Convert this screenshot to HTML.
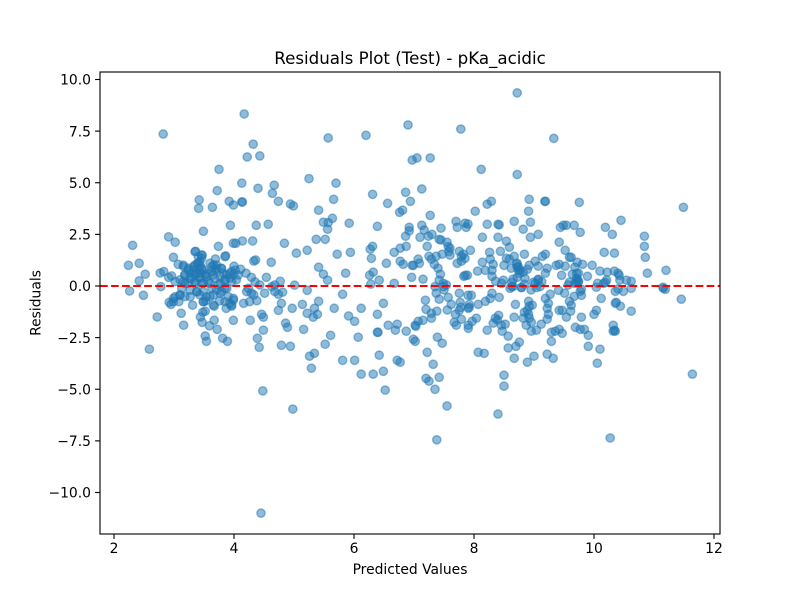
<!DOCTYPE html>
<html>
<head>
<meta charset="utf-8">
<title>Residuals Plot (Test) - pKa_acidic</title>
<style>
html,body{margin:0;padding:0;background:#fff;}
svg{display:block;}
text{font-family:"DejaVu Sans","Liberation Sans",sans-serif;fill:#000;}
</style>
</head>
<body>
<svg id="chart" xmlns="http://www.w3.org/2000/svg" width="800" height="600" viewBox="0 0 800 600">
  <rect x="0" y="0" width="800" height="600" fill="#fff"/>
  <text x="410" y="64" font-size="16.67" text-anchor="middle">Residuals Plot (Test) - pKa_acidic</text>
  <g id="points"></g>
  <g id="zero"></g>
  <g id="xaxis"></g>
  <g id="yaxis"></g>
  <rect x="100" y="72" width="620" height="462" fill="none" stroke="#000" stroke-width="1.11"/>
  <text x="410" y="574" font-size="13.89" text-anchor="middle">Predicted Values</text>
  <text x="0" y="0" font-size="13.89" text-anchor="middle" transform="translate(40.5 303) rotate(-90)">Residuals</text>
</svg>
<script>
const xTickValues = [2, 4, 6, 8, 10, 12];
const yTickValues = [-10, -7.5, -5, -2.5, 0, 2.5, 5, 7.5, 10];
const yTickLabels = ["\u221210.0", "\u22127.5", "\u22125.0", "\u22122.5", "0.0", "2.5", "5.0", "7.5", "10.0"];
const referenceResidual = 0;

const predictedLeftUpper = [3.42,3.72,3.41,3.64,3.92,3.99,4.13,4.14,3.94,4.37,3.49,2.91,3.02,2.31,3.74,3.99,4.03,4.14,4.31,3.36,3.47,2.99,3.86,3.69,2.42,2.24,2.52,2.42,2.77,2.83,3.07,4.33,4.36,4.0,4.11,4.2,4.29,2.91,2.96,3.16,3.24,3.18,3.35,3.43,3.46,3.41,3.38,3.49,3.60,3.66,3.71,3.63,3.54,3.43,3.29,3.35,3.10,3.18,3.02,3.82,3.96,3.99,3.93,3.85,3.77,4.04,3.68,3.60,3.49,3.43,3.39,3.44,3.68,3.79,3.32,3.52,3.88,3.27];
const residualLeftUpper = [4.17,4.62,3.76,3.81,4.10,3.92,4.07,4.07,2.94,2.94,2.65,2.38,2.12,1.97,1.92,2.07,2.07,2.18,2.18,1.68,1.49,1.39,1.46,1.31,1.10,1.0,0.57,0.25,0.63,0.70,1.05,1.21,1.26,0.96,0.81,0.62,0.42,0.42,0.49,0.94,0.86,0.54,1.02,1.18,1.34,0.86,0.62,0.78,1.10,1.02,0.86,0.70,0.46,0.38,0.38,0.13,0.30,0.13,0.21,0.62,0.70,0.54,0.38,0.30,0.13,0.30,0.38,0.13,0.13,0.62,1.10,0.97,0.78,0.86,0.78,0.54,0.54,0.62];

const predictedCluster = [3.155,3.24,3.32,3.405,3.46,3.35,3.27,3.18,3.43,3.54,3.63,3.71,3.79,3.655,3.77,3.57,3.46,3.35,3.24,3.155,3.13,3.27,3.38,3.49,3.63,3.74,3.85,3.93,4.02,4.07,3.96,3.88,3.77,3.655,3.54,3.10,3.02,2.99,3.27,3.905,3.99,3.96,3.85,3.49,3.655,3.405,3.46,3.85,3.35];
const residualCluster = [1.01,0.77,0.93,1.09,0.85,0.53,0.37,0.53,0.45,0.61,0.93,1.01,0.85,0.53,0.45,0.21,0.13,0.21,0.13,0.21,-0.11,-0.2,-0.28,-0.28,-0.11,0.05,0.29,0.61,0.77,0.53,0.21,-0.11,-0.36,-0.44,-0.52,-0.44,-0.52,-0.76,-0.52,-0.52,-0.68,-0.92,-0.76,-0.76,-0.92,1.42,1.5,1.42,1.66];

const predictedLeftLower = [2.26,2.49,2.78,2.72,2.59,2.92,2.95,2.99,3.08,3.10,3.18,3.31,3.12,3.16,3.44,3.52,3.48,3.47,3.67,3.59,3.72,3.52,3.54,3.81,3.89,3.99,4.27,3.67,3.87,3.96,3.93,3.99,4.16,4.26,4.38,3.76,3.53,3.49,3.60,3.38,3.43,3.79,3.85,3.71,4.21,4.29,4.33,4.24,4.39,4.42];
const residualLeftLower = [-0.24,-0.45,-0.03,-1.50,-3.06,-0.79,-0.89,-0.6,-0.76,-0.43,-0.51,-0.93,-1.32,-1.90,-1.50,-1.22,-1.27,-1.76,-1.66,-1.93,-2.10,-2.42,-2.68,-2.53,-2.68,-1.66,-1.66,-0.98,-1.08,-0.98,-0.84,-0.6,-0.84,-0.76,-0.71,-0.72,-0.72,-0.76,-0.51,-0.27,-0.43,-0.27,-0.11,-0.19,-0.27,-0.35,-0.43,-0.11,-2.53,-2.97];

const predictedMidUpper = [4.64,4.74,4.94,4.99,5.41,5.66,6.31,6.56,6.86,6.94,6.76,6.81,4.57,5.64,5.49,5.57,5.56,5.92,6.39,6.92,6.92,6.86,4.84,5.37,5.52,5.04,5.22,5.72,5.94,6.31,6.27,6.29,6.67,6.77,6.87,6.54,6.77,6.82,6.97,4.62,5.41,5.49,5.56,5.86,6.32,6.26,6.42,6.67,6.96,4.54,4.77,5.01,6.28,4.35,4.43,4.63,4.68];
const residualMidUpper = [4.49,4.10,3.97,3.88,3.67,4.20,4.44,4.0,4.54,4.10,3.57,3.67,2.99,3.28,3.09,3.07,2.75,3.04,2.89,2.84,2.67,2.41,2.07,2.26,2.26,1.59,1.73,1.54,1.63,1.92,1.78,1.34,1.63,1.83,1.92,1.10,1.20,1.05,1.0,1.15,0.91,0.57,0.28,0.62,0.67,0.52,0.28,0.13,0.42,0.42,0.23,0.04,0.09,0.2,0.05,-0.03,0.05];

const predictedMidLower = [5.22,4.51,4.74,4.81,4.68,4.79,4.74,4.97,5.14,5.41,5.81,5.67,5.34,5.22,5.39,5.32,6.12,6.49,5.91,6.01,6.39,6.57,6.72,6.69,6.87,7.02,6.99,7.02,6.4,6.39,6.07,5.61,5.52,5.34,5.26,5.29,5.81,6.01,6.12,6.32,6.49,6.42,6.72,6.77,5.16,4.86,4.89,4.49,4.46,4.49,4.79,4.94];
const residualMidLower = [-0.21,-0.35,-0.40,-0.30,-0.27,-0.84,-1.18,-1.08,-0.89,-0.74,-0.40,-1.08,-1.08,-1.32,-1.37,-1.51,-1.08,-0.84,-1.45,-1.71,-1.37,-1.90,-1.85,-2.14,-2.19,-1.90,-2.58,-2.68,-2.24,-2.24,-2.48,-2.39,-2.82,-3.26,-3.40,-3.98,-3.60,-3.60,-4.27,-4.27,-4.13,-3.35,-3.60,-3.69,-2.10,-1.80,-2.0,-2.14,-1.37,-1.51,-2.87,-2.92];

const predictedRightMidUpper = [8.22,8.29,8.92,9.18,9.19,8.02,8.91,7.27,7.70,7.13,7.72,7.85,7.9,7.87,7.45,7.17,8.22,8.40,8.42,8.67,8.94,8.82,9.07,8.94,8.14,8.40,9.44,9.49,9.54,7.10,7.24,7.30,7.42,7.45,7.22,7.55,7.57,7.60,7.58,7.47,7.60,7.37,7.25,7.29,7.07,7.09,6.99,7.34,7.40,7.44,7.42,7.15,7.49,7.54,7.755,7.94,7.82,7.85,7.79,7.72,7.79,8.26,8.44,8.54,8.59,8.84,8.54,8.67,8.59,8.27,8.14,8.32,8.50,8.62,8.06,8.19,8.30,8.30,8.36,7.83,7.89,7.855,8.72,8.72,8.74,8.76,8.82,8.89,8.92,9.02,9.07,9.14,9.19,9.42,9.52,9.59,9.22,9.19,9.07,8.99,9.46,9.37,9.42,9.52,8.49,8.65,8.72,8.84,8.63,8.46];
const residualRightMidUpper = [3.96,4.10,4.20,4.10,4.10,3.62,3.62,3.42,3.13,2.94,2.84,3.04,3.0,2.84,2.8,2.71,2.99,2.99,2.96,3.13,3.09,2.75,2.50,2.36,2.36,2.36,2.84,2.94,2.94,2.36,2.41,2.50,2.26,2.23,1.92,2.12,1.91,1.83,1.67,1.54,1.49,1.44,1.44,1.30,1.30,1.10,1.0,1.05,0.86,0.57,0.28,0.33,0.13,0.05,1.68,1.73,1.54,1.34,1.44,1.10,1.20,1.63,1.68,2.17,1.88,1.54,1.34,1.44,1.30,1.30,1.15,1.05,1.0,0.86,0.72,0.76,0.76,0.47,0.23,0.47,0.52,0.52,1.10,0.91,0.76,0.62,0.67,0.81,1.0,1.20,0.96,1.44,1.54,2.12,1.73,1.39,0.86,0.62,0.33,0.18,0.52,1.0,1.05,0.96,0.28,0.33,0.42,0.09,0.17,0.13];

const predictedRightDense = [8.74,8.77,8.71,9.07,9.13,9.02,9.71,9.74,9.71,9.68,8.85,8.65,8.79];
const residualRightDense = [0.93,0.77,1.06,0.29,0.21,0.13,0.37,0.21,0.61,0.13,0.37,-0.03,-0.07];

const predictedRightMidLower = [7.37,7.42,7.50,7.57,7.19,7.20,7.29,7.38,7.29,7.15,7.07,7.03,7.555,7.62,7.755,7.90,7.955,7.77,7.92,7.92,7.905,7.78,7.755,7.69,7.79,7.67,7.705,7.905,7.905,7.97,8.04,8.07,8.19,8.27,8.30,8.42,8.69,8.67,8.22,8.41,8.39,8.32,8.355,8.455,8.52,8.47,8.57,7.39,7.47,7.22,7.32,7.2,7.25,7.42,8.07,8.17,8.50,8.50,8.57,8.70,8.755,8.67,9.0,8.89,9.22,9.32,8.91,8.97,8.92,8.89,8.84,8.91,8.82,8.92,8.955,8.87,9.12,9.04,8.955,9.24,9.22,9.22,9.24,9.19,9.27,9.42,9.47,9.54,9.29,9.355,9.42,9.47,9.29,9.41,9.51,8.6,8.63,8.79,8.95,9.04,9.1,7.35,7.49];
const residualRightMidLower = [-0.35,-0.64,-0.19,-0.55,-0.69,-1.13,-1.32,-1.22,-1.56,-1.66,-1.71,-1.95,-1.16,-0.89,-0.35,-0.45,-0.45,-0.79,-0.89,-1.03,-1.08,-1.03,-1.18,-1.37,-1.61,-1.76,-1.90,-1.90,-2.05,-1.71,-1.56,-0.89,-0.74,-0.6,-0.35,-0.55,-0.89,-1.51,-2.14,-1.42,-1.64,-1.80,-1.56,-1.90,-1.85,-2.19,-2.43,-2.48,-2.77,-3.21,-3.79,-4.47,-4.61,-4.42,-3.21,-3.26,-4.32,-4.85,-3.0,-2.92,-2.72,-3.50,-3.40,-3.69,-3.30,-3.50,-0.74,-0.93,-0.98,-1.18,-1.27,-1.37,-1.56,-1.56,-1.76,-1.90,-1.85,-2.14,-2.19,-1.37,-1.61,-1.08,-0.84,-0.6,-0.40,-1.18,-1.18,-1.51,-2.24,-2.19,-2.10,-2.29,-2.68,-0.21,-0.35,-0.11,-0.03,-0.08,-0.19,-0.08,-0.03,-0.03,-0.03];

const predictedRightUpper = [9.755,11.49,10.45,10.19,10.305,9.67,9.77,10.84,10.84,10.855,10.89,11.2,10.17,10.34,9.97,9.62,9.72,9.81,10.10,10.22,10.34,10.40,10.42,10.54,10.62,9.89,9.74,9.64,9.68,9.59,9.72,9.74,9.71,10.06,10.19,10.16,10.21,10.43,11.15,9.57];
const residualRightUpper = [4.05,3.81,3.18,2.84,2.50,2.94,2.60,2.41,1.92,1.39,0.62,0.76,1.63,1.59,1.0,1.39,1.15,1.05,0.72,0.67,0.72,0.62,0.52,0.28,0.23,0.47,0.62,0.57,0.91,0.18,0.33,0.23,0.17,0.13,0.18,0.13,0.29,0.29,-0.06,0.05];

const predictedRightLower = [11.455,11.64,10.62,10.44,10.37,10.355,10.12,10.04,10.0,9.79,9.61,9.62,9.59,9.67,9.79,9.77,9.79,10.04,10.355,10.49,10.62,10.40,11.19,11.155,9.69,9.77,9.84,9.905,9.905,10.10,10.055,10.32,10.32,10.355,10.34];
const residualRightLower = [-0.64,-4.27,-1.22,-0.98,-0.79,-0.84,-0.6,-1.18,-1.37,-1.51,-1.22,-0.93,-0.74,-0.5,-0.45,-0.26,-0.16,-0.06,-0.26,-0.26,-0.11,-0.14,-0.16,-0.11,-2.0,-2.1,-2.1,-2.39,-2.92,-3.06,-3.74,-1.90,-2.19,-2.19,-2.14];

const predictedOutliers = [8.72,4.17,2.82,4.32,5.57,6.2,6.9,7.78,9.33,4.22,4.43,3.75,6.97,7.05,7.27,8.12,8.72,5.25,5.7,4.13,4.67,4.4,7.13,4.48,4.98,6.52,7.55,7.38,8.4,10.27,4.45,7.35];
const residualOutliers = [9.35,8.33,7.36,6.87,7.17,7.3,7.8,7.6,7.15,6.25,6.3,5.65,6.1,6.2,6.2,5.65,5.4,5.2,4.98,4.98,4.88,4.73,4.7,-5.08,-5.96,-5.04,-5.81,-7.45,-6.2,-7.36,-11.0,-5.0];

const predictedValues = [].concat(predictedLeftUpper, predictedCluster, predictedLeftLower, predictedMidUpper, predictedMidLower, predictedRightMidUpper, predictedRightDense, predictedRightMidLower, predictedRightUpper, predictedRightLower, predictedOutliers);
const residualValues = [].concat(residualLeftUpper, residualCluster, residualLeftLower, residualMidUpper, residualMidLower, residualRightMidUpper, residualRightDense, residualRightMidLower, residualRightUpper, residualRightLower, residualOutliers);

const NS = "http://www.w3.org/2000/svg";
function xScale(v) { return 114 + (v - 2) * 60; }
function yScale(v) { return 286 - v * 20.65; }
function make(tag, attrs, parent) {
  const el = document.createElementNS(NS, tag);
  for (const k in attrs) el.setAttribute(k, attrs[k]);
  parent.appendChild(el);
  return el;
}

const pointsGroup = document.getElementById("points");
const count = Math.min(predictedValues.length, residualValues.length);
for (let i = 0; i < count; i++) {
  const c = make("circle", {cx: xScale(predictedValues[i]), cy: yScale(residualValues[i]), r: 4.17, fill: "#1f77b4", "fill-opacity": 0.5, stroke: "#1f77b4", "stroke-opacity": 0.5, "stroke-width": 1.39}, pointsGroup);
  
  
}

const zeroGroup = document.getElementById("zero");
const zeroLine = make("line", {x1: 100, x2: 720, y1: yScale(referenceResidual), y2: yScale(referenceResidual), stroke: "#ff0000", "stroke-width": 2.08, "stroke-dasharray": "7.7 3.33"}, zeroGroup);



const xAxisGroup = document.getElementById("xaxis");
xTickValues.forEach(function (v) {
  const px = xScale(v);
  const t = make("line", {x1: px, x2: px, y1: 534, y2: 538.9, stroke: "#000", "stroke-width": 1.11}, xAxisGroup);
  
  
  const l = make("text", {x: px, y: 553, "font-size": 13.89, "text-anchor": "middle"}, xAxisGroup);
  l.textContent = String(v);
  
  
});

const yAxisGroup = document.getElementById("yaxis");
yTickValues.forEach(function (v, i) {
  const py = yScale(v);
  const t = make("line", {x1: 95.1, x2: 100, y1: py, y2: py, stroke: "#000", "stroke-width": 1.11}, yAxisGroup);
  
  
  const l = make("text", {x: 91, y: py + 5.2, "font-size": 13.89, "text-anchor": "end"}, yAxisGroup);
  l.textContent = yTickLabels[i];
  
  
});
</script>
</body>
</html>
